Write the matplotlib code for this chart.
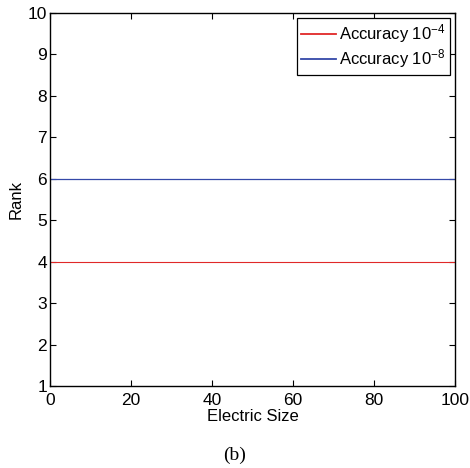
import matplotlib.pyplot as plt

# data
electric_size = [0, 100]
rank_1e4 = [4, 4]
rank_1e8 = [6, 6]
labels = ['Accuracy $10^{-4}$', 'Accuracy $10^{-8}$']

plt.rcParams['font.family'] = ['Liberation Sans', 'DejaVu Sans']
plt.rcParams['mathtext.fontset'] = 'custom'
plt.rcParams['mathtext.rm'] = 'Liberation Sans'
plt.rcParams['mathtext.it'] = 'Liberation Sans'

fig = plt.figure(figsize=(4.7, 4.68), dpi=100)
ax = fig.add_axes([50 / 470, 1 - 386 / 468, 405 / 470, 373 / 468])

ax.plot(electric_size, rank_1e4, color='#e02828', lw=0.8, label=labels[0])
ax.plot(electric_size, rank_1e8, color='#3448a8', lw=0.9, label=labels[1])

ax.set_xlim(0, 100)
ax.set_ylim(1, 10)
ax.set_xticks(range(0, 101, 20))
ax.set_yticks(range(1, 11))
ax.tick_params(direction='in', top=True, right=True, labelsize=12.5, length=4)
ax.tick_params(axis='x', pad=5)
ax.tick_params(axis='y', pad=2)
for s in ax.spines.values():
    s.set_linewidth(1.0)

ax.set_xlabel('Electric Size', fontsize=12, labelpad=1)
ax.set_ylabel('Rank', fontsize=12, labelpad=3)

leg = ax.legend(loc='upper right', fontsize=12, fancybox=False, framealpha=1,
                edgecolor='black', borderaxespad=0.3, handlelength=2.1,
                handletextpad=0.2, borderpad=0.25, labelspacing=0.15)
leg.get_frame().set_linewidth(0.9)
for h in leg.get_lines():
    h.set_linewidth(1.3)

fig.text(235 / 470, 1 - 455 / 468, '(b)', ha='center', va='center',
         fontsize=14, family='Liberation Serif')

fig.savefig('out.png', dpi=100)
